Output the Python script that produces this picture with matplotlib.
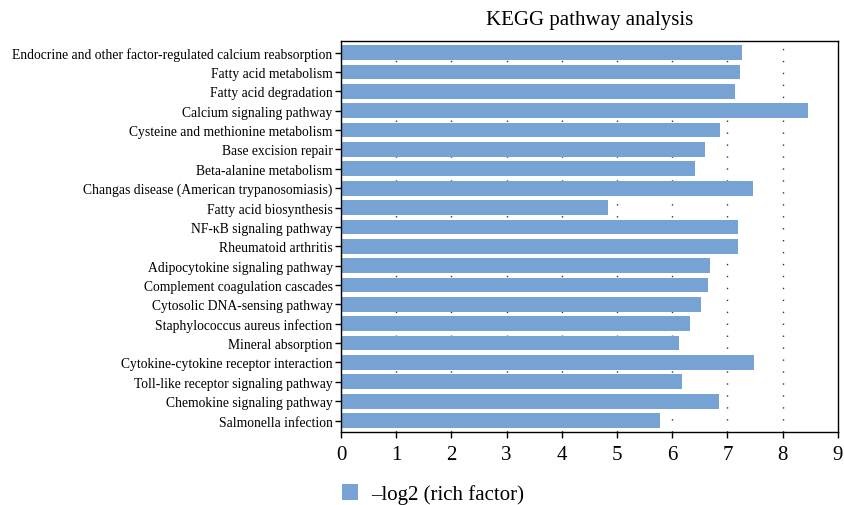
import matplotlib.pyplot as plt
import numpy as np

pathways = [
    "Endocrine and other factor-regulated calcium reabsorption",
    "Fatty acid metabolism",
    "Fatty acid degradation",
    "Calcium signaling pathway",
    "Cysteine and methionine metabolism",
    "Base excision repair",
    "Beta-alanine metabolism",
    "Changas disease (American trypanosomiasis)",
    "Fatty acid biosynthesis",
    "NF-\u03baB signaling pathway",
    "Rheumatoid arthritis",
    "Adipocytokine signaling pathway",
    "Complement coagulation cascades",
    "Cytosolic DNA-sensing pathway",
    "Staphylococcus aureus infection",
    "Mineral absorption",
    "Cytokine-cytokine receptor interaction",
    "Toll-like receptor signaling pathway",
    "Chemokine signaling pathway",
    "Salmonella infection",
]
neg_log2_rich = [7.27, 7.23, 7.13, 8.46, 6.87, 6.59, 6.41, 7.46, 4.84, 7.19,
                 7.19, 6.68, 6.65, 6.52, 6.32, 6.12, 7.48, 6.18, 6.85, 5.78]
x_ticks = list(range(0, 10))

plt.rcParams['font.family'] = ['Liberation Serif', 'DejaVu Serif']

fig = plt.figure(figsize=(8.45, 5.06), dpi=100)
ax = fig.add_axes([0.4036, 0.144, 0.588, 0.773])

# top item first
y = np.arange(len(pathways))[::-1]
ax.barh(y, neg_log2_rich, height=0.76, color="#76a3d4", zorder=2,
        label="\u2013log2 (rich factor)")

ax.set_xlim(0, 9)
ax.set_ylim(-0.6, len(pathways) - 0.4)
ax.set_xticks(x_ticks)
ax.set_xticklabels([str(t) for t in x_ticks], fontsize=15)
ax.set_yticks(y)
ax.set_yticklabels(pathways, fontsize=9.8)
ax.tick_params(axis="y", length=4, width=1, pad=2)
ax.tick_params(axis="x", length=4, width=1, pad=5)

# sparse dotted grid
for t in x_ticks[1:-1]:
    ax.axvline(t, color="#333333", lw=1.0, ls=(0, (1, 7.6)), zorder=1)

for s in ax.spines.values():
    s.set_linewidth(1.0)
    s.set_color("black")

ax.set_title("KEGG pathway analysis", fontsize=15, pad=12)

fig.legend(loc="lower left", bbox_to_anchor=(0.382, -0.036), frameon=False,
           fontsize=15, handlelength=0.8, handleheight=0.8, handletextpad=0.6)

fig.savefig("out.png", dpi=100)
